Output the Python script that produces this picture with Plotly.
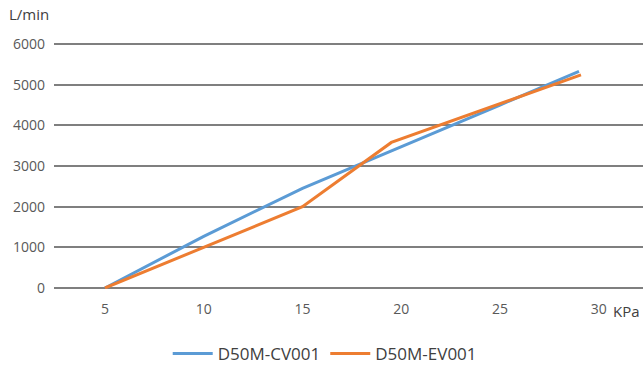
import plotly.graph_objects as go

# pressure (KPa) vs flow (L/min)
cv_x = [5, 10, 15, 20, 25, 29]
cv_y = [0, 1270, 2450, 3470, 4500, 5330]

ev_x = [5, 10, 15, 19.5, 25, 29.1]
ev_y = [0, 1000, 2000, 3580, 4530, 5240]

x_ticks = [5, 10, 15, 20, 25, 30]
y_ticks = [0, 1000, 2000, 3000, 4000, 5000, 6000]

fig = go.Figure()
fig.add_trace(go.Scatter(x=cv_x, y=cv_y, mode="lines", name="D50M-CV001",
                         line=dict(color="#5B9BD5", width=3)))
fig.add_trace(go.Scatter(x=ev_x, y=ev_y, mode="lines", name="D50M-EV001",
                         line=dict(color="#ED7D31", width=3)))

# plot area: x 54..643, y 43..289 px
pw, ph = 589, 246
fig.update_layout(
    width=643, height=368,
    margin=dict(l=54, r=0, t=43, b=79),
    plot_bgcolor="white", paper_bgcolor="white",
    font=dict(family="Open Sans", size=14, color="#595959"),
    showlegend=True,
    legend=dict(orientation="h", xref="container", yref="container",
                x=0.505, xanchor="center", y=14 / 368, yanchor="middle",
                font=dict(size=17, color="#404040"), itemwidth=40),
    annotations=[
        dict(text="L/min", xref="paper", yref="paper", x=(7 - 54) / pw, y=(289 - 14) / ph,
             xanchor="left", yanchor="middle", showarrow=False,
             font=dict(size=15, color="#404040")),
        dict(text="KPa", xref="paper", yref="paper", x=(611 - 54) / pw, y=(289 - 311) / ph,
             xanchor="left", yanchor="middle", showarrow=False,
             font=dict(size=15, color="#404040")),
    ],
)
fig.update_xaxes(range=[2.42, 32.24], tickvals=x_ticks, showgrid=False,
                 zeroline=False, showline=False, ticklabelstandoff=10)
fig.update_yaxes(range=[-25, 6025], tickvals=y_ticks, showgrid=True,
                 gridcolor="#7f7f7f", gridwidth=2, zeroline=False,
                 showline=False, ticklabelstandoff=8)

fig.write_html("out.html", config={"displayModeBar": False},
               post_script="document.body.style.margin='0px';")
